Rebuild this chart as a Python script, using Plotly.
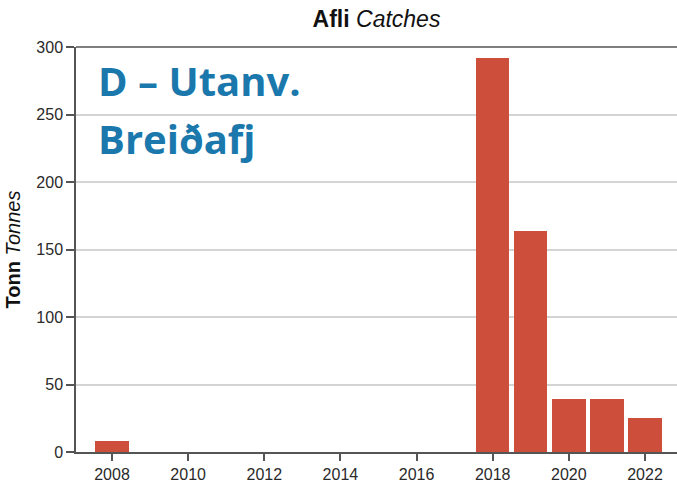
import plotly.graph_objects as go

# Landed catch by year (tonnes)
years = list(range(2008, 2023))
catches = [8, 0, 0, 0, 0, 0, 0, 0, 0, 0, 292, 164, 39, 39, 25]

tick_years = [2008, 2010, 2012, 2014, 2016, 2018, 2020, 2022]
y_ticks = [0, 50, 100, 150, 200, 250, 300]

area_label_lines = ["D \u2013 Utanv.", "Brei\u00f0afj"]

BAR_COLOR = "#cd4f3b"
AXIS_COLOR = "#555555"
GRID_COLOR = "#d4d4d4"
LABEL_BLUE = "#1a78ac"
TEXT_FONT = "Liberation Sans, Arial"

fig = go.Figure()
fig.add_trace(go.Bar(
    x=years,
    y=catches,
    width=0.875,
    marker=dict(color=BAR_COLOR, line=dict(width=0)),
    hoverinfo="x+y",
))

fig.update_layout(
    width=677,
    height=483,
    margin=dict(l=76, r=0, t=47, b=31, autoexpand=False),
    paper_bgcolor="white",
    plot_bgcolor="white",
    showlegend=False,
    title=dict(
        text="<b>Afli</b> <i>Catches</i>",
        font=dict(family=TEXT_FONT, size=23, color="#111111"),
        x=(76 + 601 / 2) / 677,
        xanchor="center",
        y=1 - 19 / 483,
        yanchor="middle",
    ),
    bargap=0,
)

fig.update_xaxes(
    range=[2007.055, 2022.84],
    tickvals=tick_years,
    ticktext=[str(y) for y in tick_years],
    ticks="outside",
    ticklen=7,
    tickwidth=1.5,
    tickcolor=AXIS_COLOR,
    showline=True,
    linecolor=AXIS_COLOR,
    linewidth=1.5,
    showgrid=False,
    zeroline=False,
    automargin=False,
    tickfont=dict(family=TEXT_FONT, size=16, color="#2a2a2a"),
)

fig.update_yaxes(
    range=[0, 300],
    tickvals=y_ticks,
    ticks="outside",
    ticklen=8,
    tickwidth=1.5,
    tickcolor=AXIS_COLOR,
    showline=True,
    linecolor=AXIS_COLOR,
    linewidth=1.5,
    showgrid=True,
    gridcolor=GRID_COLOR,
    gridwidth=1.5,
    zeroline=False,
    automargin=False,
    tickfont=dict(family=TEXT_FONT, size=16, color="#2a2a2a"),
    title=dict(
        text="<b>Tonn</b> <i>Tonnes</i>",
        font=dict(family=TEXT_FONT, size=20, color="#111111"),
        standoff=10,
    ),
)

# dark frame line along the top of the plotting area
fig.add_shape(
    type="line", xref="paper", yref="y domain",
    x0=0, x1=1, y0=1, y1=1,
    line=dict(color=AXIS_COLOR, width=1.5),
)

# area name in the upper-left corner, one annotation per line
for i, line in enumerate(area_label_lines):
    fig.add_annotation(
        text=f"<b>{line}</b>",
        xref="paper", yref="paper",
        x=(96 - 76) / 601,
        y=1 - (81 + 57 * i - 47) / 405,
        xanchor="left", yanchor="middle",
        showarrow=False,
        font=dict(family="Open Sans", size=40, color=LABEL_BLUE),
    )

fig.write_html("out.html")
